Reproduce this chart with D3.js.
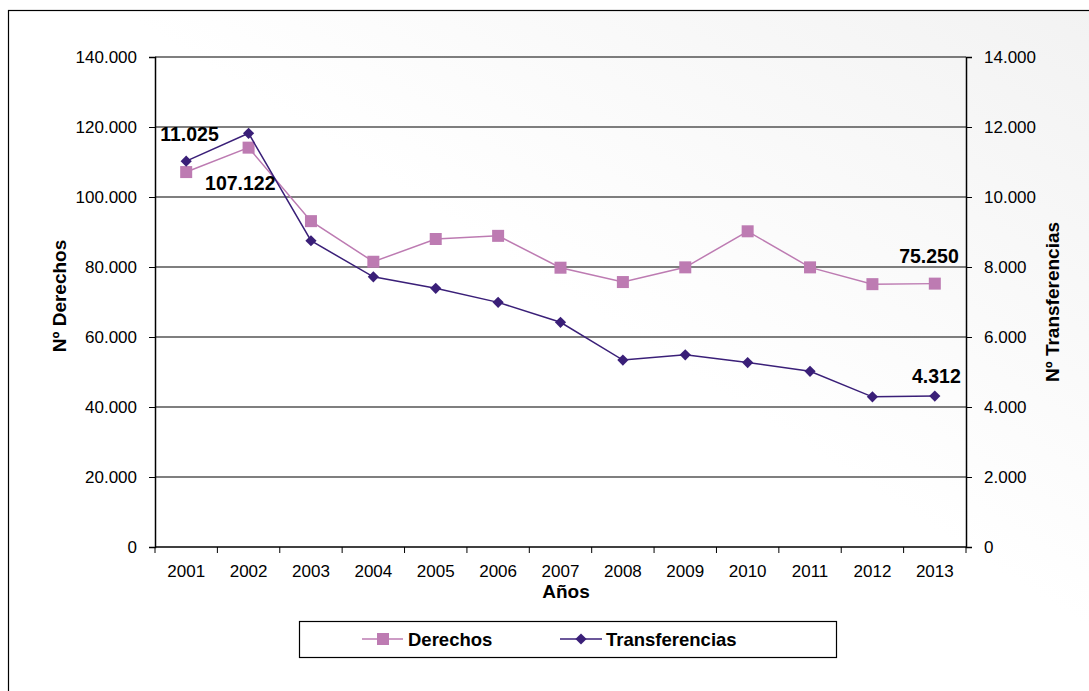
<!DOCTYPE html>
<html>
<head>
<meta charset="utf-8">
<script src="https://cdn.jsdelivr.net/npm/d3@7"></script>
<style>
  body { margin: 0; background: #fff; }
  text { font-family: "Liberation Sans", Arial, sans-serif; }
</style>
</head>
<body>
<svg width="1089" height="691"></svg>
<script>
const years = ['2001', '2002', '2003', '2004', '2005', '2006', '2007', '2008', '2009', '2010', '2011', '2012', '2013']
const derechos = [107122, 114100, 93100, 81500, 88000, 88900, 79800, 75700, 79900, 90200, 79900, 75100, 75250]
const transferencias = [11025, 11820, 8750, 7720, 7390, 6990, 6420, 5340, 5490, 5270, 5020, 4290, 4312]
const leftTicks = [0, 20000, 40000, 60000, 80000, 100000, 120000, 140000]
const rightTicks = [0, 2000, 4000, 6000, 8000, 10000, 12000, 14000]

const svg = d3.select('svg')
const fmtInt = d => d === 0 ? '0' : (Math.floor(d / 1000) + '.' + String(d % 1000).padStart(3, '0'))

const colD = '#bd7bb2', colT = '#3a1f78'

// background gradient
const defs = svg.append('defs')
const grad = defs.append('linearGradient').attr('id', 'bg')
    .attr('x1', '0%').attr('y1', '100%').attr('x2', '100%').attr('y2', '0%')
grad.append('stop').attr('offset', '0%').attr('stop-color', '#ffffff')
grad.append('stop').attr('offset', '55%').attr('stop-color', '#ffffff')
grad.append('stop').attr('offset', '100%').attr('stop-color', '#f2f2f2')

svg.append('rect')
    .attr('x', 8.5).attr('y', 10.5).attr('width', 1100).attr('height', 700)
    .attr('fill', 'url(#bg)').attr('stroke', '#000').attr('stroke-width', 1.2)

const m = { left: 155, right: 966, top: 57, bottom: 547 }

const x = d3.scaleBand().domain(years).range([m.left, m.right])
const yL = d3.scaleLinear().domain([0, 140000]).range([m.bottom, m.top])
const yR = d3.scaleLinear().domain([0, 14000]).range([m.bottom, m.top])

// gridlines
svg.append('g').selectAll('line').data(leftTicks.slice(1)).join('line')
    .attr('x1', m.left).attr('x2', m.right)
    .attr('y1', d => yL(d)).attr('y2', d => yL(d))
    .attr('stroke', '#000').attr('stroke-width', 1.2)

// axes
const axL = svg.append('g').attr('transform', `translate(${m.left},0)`)
    .call(d3.axisLeft(yL).tickValues(leftTicks).tickFormat(fmtInt).tickSize(6).tickPadding(12))
const axR = svg.append('g').attr('transform', `translate(${m.right},0)`)
    .call(d3.axisRight(yR).tickValues(rightTicks).tickFormat(fmtInt).tickSize(6).tickPadding(12))
const axB = svg.append('g').attr('transform', `translate(0,${m.bottom})`)
    .call(d3.axisBottom(x).tickSize(0).tickPadding(18))

axB.selectAll('.tick').append('line')
    .attr('x1', -x.step() / 2).attr('x2', -x.step() / 2).attr('y2', 6).attr('stroke', '#000')
axB.append('line').attr('x1', m.right).attr('x2', m.right).attr('y2', 6).attr('stroke', '#000')

;[axL, axR, axB].forEach(a => {
    a.select('.domain').attr('stroke', '#000').attr('stroke-width', 1.5)
    a.selectAll('.tick line').attr('stroke', '#000')
    a.selectAll('text').attr('font-size', 17).attr('fill', '#000')
        .style('font-family', '"Liberation Sans", Arial, sans-serif')
})
axB.select('.domain').attr('d', `M${m.left},0H${m.right}`)

// axis titles
svg.append('text').attr('x', 566).attr('y', 598).attr('text-anchor', 'middle')
    .attr('font-size', 19).attr('font-weight', 'bold').text('Años')
svg.append('text').attr('transform', 'translate(66,296) rotate(-90)').attr('text-anchor', 'middle')
    .attr('font-size', 19).attr('font-weight', 'bold').text('Nº Derechos')
svg.append('text').attr('transform', 'translate(1059,302) rotate(-90)').attr('text-anchor', 'middle')
    .attr('font-size', 19).attr('font-weight', 'bold').text('Nº Transferencias')

const cx = d => x(d) + x.bandwidth() / 2

// Derechos line
svg.append('path').datum(derechos)
    .attr('fill', 'none').attr('stroke', colD).attr('stroke-width', 1.5)
    .attr('d', d3.line().x((d, i) => cx(years[i])).y(d => yL(d)))
svg.append('g').selectAll('rect').data(derechos).join('rect')
    .attr('x', (d, i) => cx(years[i]) - 6).attr('y', d => yL(d) - 6)
    .attr('width', 12).attr('height', 12).attr('fill', colD)

// Transferencias line
svg.append('path').datum(transferencias)
    .attr('fill', 'none').attr('stroke', colT).attr('stroke-width', 1.5)
    .attr('d', d3.line().x((d, i) => cx(years[i])).y(d => yR(d)))
const diamond = d3.symbol().type(d3.symbolDiamond2).size(80)
svg.append('g').selectAll('path').data(transferencias).join('path')
    .attr('transform', (d, i) => `translate(${cx(years[i])},${yR(d)})`)
    .attr('d', diamond).attr('fill', colT)

// data labels
const lab = (t, xp, yp, anchor) => svg.append('text').attr('x', xp).attr('y', yp)
    .attr('text-anchor', anchor).attr('font-size', 19.5).attr('font-weight', 'bold').text(t)
lab(fmtInt(transferencias[0]), cx(years[0]) - 26, yR(transferencias[0]) - 20, 'start')
lab(fmtInt(derechos[0]), cx(years[1]) + 27, yL(derechos[0]) + 18, 'end')
lab(fmtInt(derechos[12]), cx(years[12]) + 24, yL(derechos[12]) - 21, 'end')
lab(fmtInt(transferencias[12]), cx(years[12]) + 26, yR(transferencias[12]) - 13, 'end')

// legend
const lg = svg.append('g')
lg.append('rect').attr('x', 299.5).attr('y', 621.5).attr('width', 537).attr('height', 36)
    .attr('fill', '#fff').attr('stroke', '#000').attr('stroke-width', 1.2)
lg.append('line').attr('x1', 362).attr('x2', 403).attr('y1', 639).attr('y2', 639).attr('stroke', colD).attr('stroke-width', 1.5)
lg.append('rect').attr('x', 377).attr('y', 633).attr('width', 12).attr('height', 12).attr('fill', colD)
lg.append('text').attr('x', 408).attr('y', 646).attr('font-size', 18.5).attr('font-weight', 'bold').text('Derechos')
lg.append('line').attr('x1', 560).attr('x2', 602).attr('y1', 639).attr('y2', 639).attr('stroke', colT).attr('stroke-width', 1.5)
lg.append('path').attr('transform', 'translate(581,639)').attr('d', diamond).attr('fill', colT)
lg.append('text').attr('x', 606).attr('y', 646).attr('font-size', 18.5).attr('font-weight', 'bold').text('Transferencias')
</script>
</body>
</html>
